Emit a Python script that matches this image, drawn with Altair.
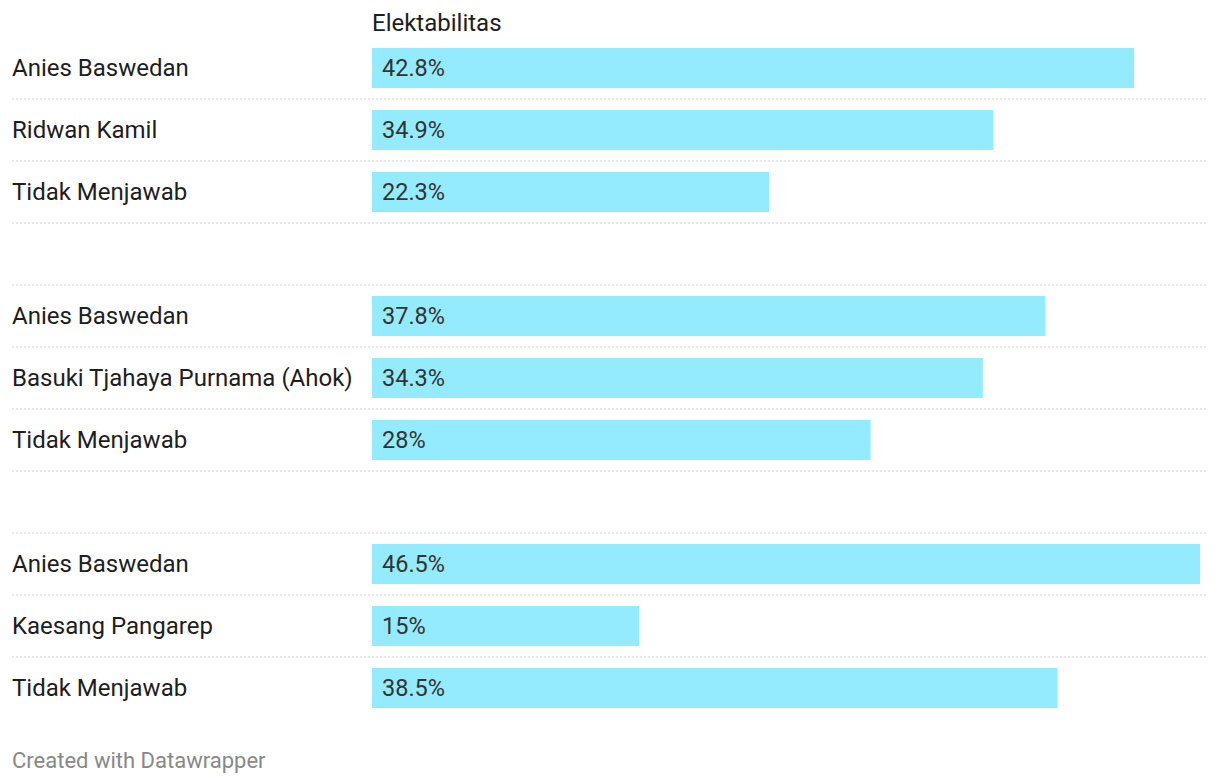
import altair as alt
import pandas as pd

# ---- data ----
row_ids = [f"r{i}" for i in range(11)]
names = ["Anies Baswedan", "Ridwan Kamil", "Tidak Menjawab", "",
         "Anies Baswedan", "Basuki Tjahaya Purnama (Ahok)", "Tidak Menjawab", "",
         "Anies Baswedan", "Kaesang Pangarep", "Tidak Menjawab"]
values = [42.8, 34.9, 22.3, None,
          37.8, 34.3, 28.0, None,
          46.5, 15.0, 38.5]
column_title = "Elektabilitas"
footer = "Created with Datawrapper"

rows = []
for rid, n, v in zip(row_ids, names, values):
    rows.append({"row": rid, "name": n, "value": v,
                 "label": (f"{v:g}%" if v is not None else "")})
df = pd.DataFrame(rows)
bars_df = df[df["value"].notna()]
sep_df = df.iloc[:-1]

FONT = "Roboto"
W = 828
H = 682

y_enc = alt.Y("row:N", scale=alt.Scale(domain=row_ids, paddingInner=22/62, paddingOuter=11/62),
              axis=None)
x_scale = alt.Scale(domain=[0, 46.5], nice=False, zero=True)

base = alt.Chart(bars_df)

bars = base.mark_bar(color="#94EBFD").encode(
    x=alt.X("value:Q", scale=x_scale, axis=None),
    y=y_enc,
)

vals = base.mark_text(align="left", baseline="middle", font=FONT, fontSize=23.5,
                      color="#333333", dy=1).encode(
    x=alt.value(10), y=y_enc, text="label:N")

names_txt = alt.Chart(df[df["name"] != ""]).mark_text(
    align="left", baseline="middle", font=FONT, fontSize=24, color="#1d1d1d", dy=1).encode(
    x=alt.value(-360), y=y_enc, text="name:N")

seps = alt.Chart(sep_df).mark_rule(color="#d4d4d4", strokeDash=[2, 2], strokeWidth=1,
                                   yOffset=31).encode(
    x=alt.value(-360), x2=alt.value(836), y=y_enc)

title_df = pd.DataFrame({"t": [column_title]})
title_txt = alt.Chart(title_df).mark_text(
    align="left", baseline="middle", font=FONT, fontSize=24, color="#1d1d1d").encode(
    x=alt.value(0), y=alt.value(-13), text="t:N")

foot_df = pd.DataFrame({"t": [footer]})
foot_txt = alt.Chart(foot_df).mark_text(
    align="left", baseline="middle", font=FONT, fontSize=22, color="#888888").encode(
    x=alt.value(-360), y=alt.value(724), text="t:N")

chart = alt.layer(seps, bars, vals, names_txt, title_txt, foot_txt).properties(
    width=W, height=H,
    background="white",
    autosize=alt.AutoSizeParams(type="none"),
    padding={"left": 364, "top": 29, "right": 12, "bottom": 60},
).configure_view(strokeWidth=0)

chart.save("out.html", embed_options={"renderer": "svg", "actions": False})
